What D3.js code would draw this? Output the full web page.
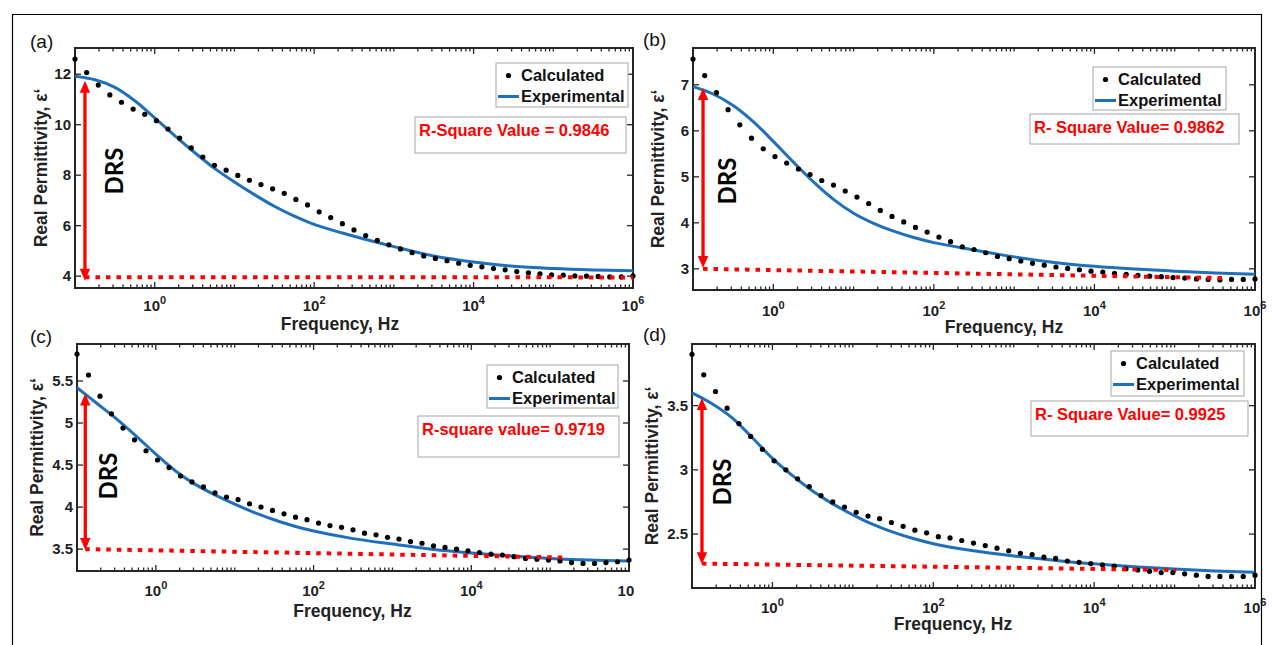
<!DOCTYPE html>
<html><head><meta charset="utf-8">
<script src="https://cdn.jsdelivr.net/npm/d3@7"></script>
<style>body{margin:0;background:#fff;}svg{display:block}</style>
</head><body>
<svg id="chart" width="1273" height="645"></svg>
<script>
// ---------------- DATA ----------------
const panelLabels = ["(a)", "(b)", "(c)", "(d)"];
const seriesNames = ["Calculated", "Experimental"];
const rSquareLabels = ["R-Square Value = 0.9846", "R- Square Value= 0.9862", "R-square value= 0.9719", "R- Square Value= 0.9925"];
const xAxisTitle = "Frequency, Hz";
const yAxisTitle = "Real Permittivity, \u03b5\u2018";
const drsText = "DRS";

// log10(frequency / Hz) of the calculated points
const calcLogFreq = [-1.000,-0.854,-0.708,-0.563,-0.417,-0.271,-0.125,0.021,0.167,0.313,0.458,0.604,0.750,0.896,1.042,1.188,1.333,1.479,1.625,1.771,1.917,2.063,2.208,2.354,2.500,2.646,2.792,2.938,3.083,3.229,3.375,3.521,3.667,3.813,3.958,4.104,4.250,4.396,4.542,4.688,4.833,4.979,5.125,5.271,5.417,5.563,5.708,5.854,6.000];
const calcA = [12.60,12.07,11.57,11.18,10.89,10.62,10.41,10.16,9.83,9.47,9.08,8.72,8.39,8.20,7.99,7.80,7.63,7.46,7.28,7.04,6.82,6.55,6.32,6.08,5.83,5.61,5.42,5.24,5.08,4.93,4.80,4.70,4.61,4.51,4.43,4.37,4.30,4.25,4.18,4.13,4.09,4.05,4.04,4.01,4.00,3.99,3.97,3.97,4.01];
const calcB = [7.56,7.20,6.83,6.46,6.13,5.84,5.61,5.44,5.30,5.17,5.05,4.92,4.82,4.69,4.56,4.42,4.27,4.14,4.02,3.90,3.80,3.69,3.59,3.48,3.42,3.35,3.27,3.22,3.17,3.12,3.08,3.04,3.01,2.98,2.95,2.93,2.90,2.88,2.86,2.84,2.83,2.81,2.80,2.78,2.77,2.76,2.77,2.77,2.78];
const calcC = [5.82,5.57,5.32,5.11,4.94,4.80,4.67,4.56,4.47,4.37,4.30,4.24,4.17,4.12,4.09,4.04,4.00,3.96,3.92,3.88,3.85,3.81,3.78,3.76,3.73,3.69,3.67,3.64,3.62,3.59,3.57,3.54,3.52,3.50,3.48,3.46,3.44,3.43,3.41,3.39,3.38,3.37,3.36,3.34,3.33,3.33,3.34,3.35,3.37];
const calcD = [3.90,3.74,3.61,3.48,3.36,3.26,3.16,3.07,3.00,2.93,2.87,2.80,2.75,2.71,2.67,2.64,2.62,2.59,2.56,2.53,2.51,2.48,2.47,2.45,2.43,2.41,2.39,2.37,2.35,2.34,2.32,2.31,2.29,2.28,2.27,2.26,2.25,2.23,2.22,2.21,2.20,2.20,2.19,2.18,2.17,2.17,2.17,2.17,2.18];

// log10(frequency / Hz) of points
const expLogFreq = [-1,-0.75,-0.5,-0.25,0,0.25,0.5,0.75,1,1.25,1.5,1.75,2,2.5,3,3.5,4,4.5,5,5.5,6];
const expA = [11.92,11.78,11.48,10.95,10.27,9.57,8.90,8.27,7.73,7.23,6.77,6.38,6.05,5.58,5.17,4.80,4.56,4.39,4.30,4.245,4.21];
const expB = [6.96,6.80,6.55,6.20,5.77,5.32,4.89,4.51,4.21,3.99,3.82,3.68,3.57,3.41,3.26,3.14,3.055,2.995,2.95,2.91,2.88];
const expC = [5.42,5.235,5.05,4.845,4.63,4.43,4.27,4.145,4.035,3.935,3.85,3.775,3.715,3.625,3.56,3.50,3.455,3.42,3.39,3.37,3.36];
const expD = [3.60,3.515,3.405,3.25,3.09,2.955,2.835,2.735,2.65,2.575,2.515,2.465,2.425,2.37,2.33,2.297,2.268,2.245,2.227,2.213,2.203];

// DRS arrow: [log10 f, upper value, lower value]
const drsArrowA = [-0.875, 11.74, 3.82];
const drsArrowB = [-0.875, 6.93, 3.02];
const drsArrowC = [-0.895, 5.35, 3.49];
const drsArrowD = [-0.876, 3.56, 2.265];
// high-frequency limit line: [log10 f start, value start, log10 f end, value end]
const limitLineA = [-0.875, 3.96, 6.0, 3.95];
const limitLineB = [-0.875, 3.00, 5.6, 2.80];
const limitLineC = [-0.895, 3.50, 5.22, 3.40];
const limitLineD = [-0.876, 2.27, 5.02, 2.22];

// axes
const xDomain = [0.1, 1e6];
const xTickExponents = [0, 2, 4, 6];
const yTicksA = [4, 6, 8, 10, 12];
const yTicksB = [3, 4, 5, 6, 7];
const yTicksC = [3.5, 4, 4.5, 5, 5.5];
const yTicksD = [2.5, 3, 3.5];
const yDomainA = [3.53, 13.04];
const yDomainB = [2.54, 7.8];
const yDomainC = [3.24, 5.94];
const yDomainD = [2.08, 3.98];

// ---------------- LAYOUT / STYLE ----------------
const FONT = "'Liberation Sans', Arial, Helvetica, sans-serif";
const BLUE = "#1f6fba";
const RED = "#ff0000";
const AX = "#262626";

const panels = [
  {label: panelLabels[0], calc: calcA, exp: expA, arrow: drsArrowA, limit: limitLineA, yTicks: yTicksA, yDomain: yDomainA, r: rSquareLabels[0],
   box: {L: 75, T: 48, R: 633, B: 288}, lab: [30, 48], ylabX: 41, xlab: [340, 330], tickDy: 23, legend: [421, 15, 132, 44], rbox: [340, 69, 211, 36], drs: [114, 171]},
  {label: panelLabels[1], calc: calcB, exp: expB, arrow: drsArrowB, limit: limitLineB, yTicks: yTicksB, yDomain: yDomainB, r: rSquareLabels[1],
   box: {L: 693, T: 48, R: 1255, B: 290}, lab: [643, 46], ylabX: 657.5, xlab: [1004, 333], tickDy: 26, legend: [400, 19, 133, 43], rbox: [337, 66, 209, 30], drs: [727.5, 181]},
  {label: panelLabels[2], calc: calcC, exp: expC, arrow: drsArrowC, limit: limitLineC, yTicks: yTicksC, yDomain: yDomainC, r: rSquareLabels[2],
   box: {L: 77, T: 344, R: 629, B: 571}, lab: [30, 343], ylabX: 36.5, xlab: [352.5, 617], tickDy: 25, legend: [410, 21, 131, 43], rbox: [341, 72, 201, 41], drs: [108, 476]},
  {label: panelLabels[3], calc: calcD, exp: expD, arrow: drsArrowD, limit: limitLineD, yTicks: yTicksD, yDomain: yDomainD, r: rSquareLabels[3],
   box: {L: 692, T: 344, R: 1255, B: 588}, lab: [643, 341], ylabX: 651.5, xlab: [953, 630], tickDy: 25, legend: [419, 7, 133, 45], rbox: [339, 57, 217, 35], drs: [722, 482], cover: [634, 336]}
];

const svg = d3.select("#chart");
svg.append("rect").attr("width", 1273).attr("height", 645).attr("fill", "#fff");

function drawPanel(p) {
  const b = p.box;
  if (p.cover) {
    svg.append("rect").attr("x", p.cover[0]).attr("y", p.cover[1])
      .attr("width", 1273 - p.cover[0]).attr("height", 645 - p.cover[1]).attr("fill", "#fff");
  }
  const g = svg.append("g");
  const x = d3.scaleLog().domain(xDomain).range([b.L, b.R]);
  const y = d3.scaleLinear().domain(p.yDomain).range([b.B, b.T]);

  // panel letter
  g.append("text").attr("x", p.lab[0]).attr("y", p.lab[1]).attr("font-family", FONT)
    .attr("font-size", 19).attr("fill", "#111").text(p.label);

  // axes box
  g.append("rect").attr("x", b.L).attr("y", b.T).attr("width", b.R - b.L).attr("height", b.B - b.T)
    .attr("fill", "#fff").attr("stroke", AX).attr("stroke-width", 2);

  // x ticks (inward, top and bottom)
  const ticks = [];
  for (let k = -1; k <= 5; k++) {
    for (let m = 1; m <= 9; m++) {
      const v = m * Math.pow(10, k);
      if (v < xDomain[0] * 0.999) continue;
      ticks.push({v, major: (m === 1 && k % 2 === 0)});
    }
  }
  ticks.push({v: 1e6, major: true});
  ticks.forEach(t => {
    const len = t.major ? 6 : 3.5;
    const xx = x(t.v);
    g.append("line").attr("x1", xx).attr("x2", xx).attr("y1", b.B).attr("y2", b.B - len).attr("stroke", AX).attr("stroke-width", 1.3);
    g.append("line").attr("x1", xx).attr("x2", xx).attr("y1", b.T).attr("y2", b.T + len).attr("stroke", AX).attr("stroke-width", 1.3);
  });
  // x tick labels 10^n
  xTickExponents.forEach(e => {
    const t = g.append("text").attr("x", x(Math.pow(10, e))).attr("y", b.B + p.tickDy)
      .attr("text-anchor", "middle").attr("font-family", FONT).attr("font-weight", "bold")
      .attr("font-size", 15).attr("fill", "#222");
    t.append("tspan").text("10");
    t.append("tspan").attr("dy", -7).attr("font-size", 11).text(String(e));
  });

  // y ticks
  p.yTicks.forEach(v => {
    const yy = y(v);
    g.append("line").attr("x1", b.L).attr("x2", b.L + 6).attr("y1", yy).attr("y2", yy).attr("stroke", AX).attr("stroke-width", 1.3);
    g.append("line").attr("x1", b.R).attr("x2", b.R - 6).attr("y1", yy).attr("y2", yy).attr("stroke", AX).attr("stroke-width", 1.3);
    g.append("text").attr("x", b.L - 4).attr("y", yy).attr("dy", "0.35em").attr("text-anchor", "end")
      .attr("font-family", FONT).attr("font-weight", "bold").attr("font-size", 15).attr("fill", "#222").text(String(v));
  });

  // axis titles
  g.append("text").attr("transform", `translate(${p.ylabX},${(b.T + b.B) / 2}) rotate(-90)`)
    .attr("text-anchor", "middle").attr("dy", "0.35em").attr("font-family", FONT).attr("font-weight", "bold")
    .attr("font-size", 17.5).attr("fill", "#222").text(yAxisTitle);
  g.append("text").attr("x", p.xlab[0]).attr("y", p.xlab[1]).attr("text-anchor", "middle")
    .attr("font-family", FONT).attr("font-weight", "bold").attr("font-size", 17.5).attr("fill", "#222").text(xAxisTitle);

  // experimental curve
  const expPts = expLogFreq.map((e, i) => [Math.pow(10, e), p.exp[i]]);
  g.append("path").datum(expPts)
    .attr("d", d3.line().x(d => x(d[0])).y(d => y(d[1])).curve(d3.curveCatmullRom.alpha(0.5)))
    .attr("fill", "none").attr("stroke", BLUE).attr("stroke-width", 3);

  // calculated points
  g.selectAll(null).data(calcLogFreq.map((e, i) => [Math.pow(10, e), p.calc[i]])).enter()
    .append("circle").attr("cx", d => x(d[0])).attr("cy", d => y(d[1])).attr("r", 2.6).attr("fill", "#000");

  // high-frequency limit (red dotted)
  const lim = p.limit;
  g.append("line").attr("x1", x(Math.pow(10, lim[0]))).attr("y1", y(lim[1]))
    .attr("x2", x(Math.pow(10, lim[2]))).attr("y2", y(lim[3]))
    .attr("stroke", RED).attr("stroke-width", 4).attr("stroke-dasharray", "4.5 6");

  // DRS double arrow
  const ax = x(Math.pow(10, p.arrow[0])), yt = y(p.arrow[1]), yb = y(p.arrow[2]);
  const hl = 12, hw = 5.2;
  g.append("line").attr("x1", ax).attr("x2", ax).attr("y1", yt + hl - 1).attr("y2", yb - hl + 1)
    .attr("stroke", RED).attr("stroke-width", 3.3);
  g.append("path").attr("d", `M${ax},${yt}L${ax - hw},${yt + hl}L${ax + hw},${yt + hl}Z`).attr("fill", RED);
  g.append("path").attr("d", `M${ax},${yb}L${ax - hw},${yb - hl}L${ax + hw},${yb - hl}Z`).attr("fill", RED);
  g.append("text").attr("transform", `translate(${p.drs[0]},${p.drs[1]}) rotate(-90)`)
    .attr("text-anchor", "middle").attr("dy", "0.36em").attr("font-family", "Lato, 'Open Sans', sans-serif")
    .attr("font-weight", "bold").attr("font-size", 24).attr("fill", "#000").text(drsText);

  // legend
  const lg = p.legend, lx = b.L + lg[0], ly = b.T + lg[1];
  g.append("rect").attr("x", lx).attr("y", ly).attr("width", lg[2]).attr("height", lg[3])
    .attr("fill", "#fff").attr("stroke", "#a6a6a6").attr("stroke-width", 1);
  g.append("circle").attr("cx", lx + 12.5).attr("cy", ly + 12.5).attr("r", 2.6).attr("fill", "#000");
  g.append("line").attr("x1", lx + 2).attr("x2", lx + 23).attr("y1", ly + 33.5).attr("y2", ly + 33.5)
    .attr("stroke", BLUE).attr("stroke-width", 3);
  seriesNames.forEach((s, i) => {
    g.append("text").attr("x", lx + 25).attr("y", ly + 12.5 + i * 21).attr("dy", "0.36em")
      .attr("font-family", FONT).attr("font-weight", "bold").attr("font-size", 16.5).attr("fill", "#111").text(s);
  });

  // R-square box
  const rb = p.rbox, rx = b.L + rb[0], ry = b.T + rb[1];
  g.append("rect").attr("x", rx).attr("y", ry).attr("width", rb[2]).attr("height", rb[3])
    .attr("fill", "#fff").attr("stroke", "#a6a6a6").attr("stroke-width", 1);
  g.append("text").attr("x", rx + 4).attr("y", ry + 13.5).attr("dy", "0.36em")
    .attr("font-family", FONT).attr("font-weight", "bold").attr("font-size", 16.5).attr("fill", RED).text(p.r);
}

panels.forEach(drawPanel);

// outer figure border
svg.append("path").attr("d", "M12.5,660V14.5H1261.5V660").attr("fill", "none").attr("stroke", "#000").attr("stroke-width", 1.2);
</script>
</body></html>
